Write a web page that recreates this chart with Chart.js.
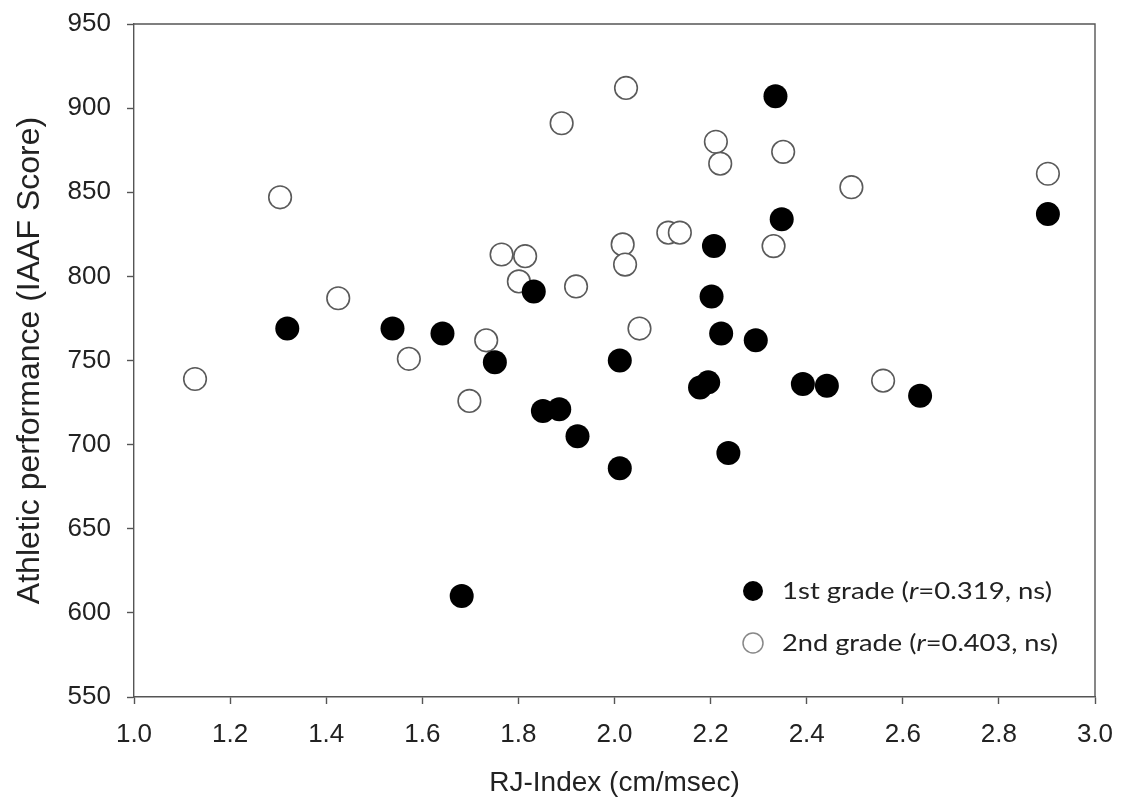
<!DOCTYPE html>
<html>
<head>
<meta charset="utf-8">
<script src="https://cdn.jsdelivr.net/npm/chart.js@4.4.1/dist/chart.umd.min.js"></script>
<style>
  html, body { margin: 0; padding: 0; background: #ffffff; }
  #wrap { width: 1121px; height: 810px; }
</style>
</head>
<body>
<div id="wrap"><canvas id="chart" width="1121" height="810"></canvas></div>
<script>
// RJ-index vs. IAAF score, 1st grade (filled) and 2nd grade (open)
const firstGradeRJ    = [1.319, 1.538, 1.642, 1.682, 1.751, 1.832, 1.851, 1.885, 1.923, 2.011, 2.011, 2.178,
                         2.195, 2.202, 2.207, 2.222, 2.237, 2.294, 2.335, 2.348, 2.392, 2.442, 2.636, 2.902];
const firstGradeScore = [769, 769, 766, 610, 749, 791, 720, 721, 705, 750, 686, 734,
                         737, 788, 818, 766, 695, 762, 907, 834, 736, 735, 729, 837];

const secondGradeRJ    = [1.127, 1.304, 1.425, 1.572, 1.698, 1.733, 1.765, 1.814, 1.801, 1.890, 1.920, 2.017,
                          2.022, 2.024, 2.052, 2.112, 2.136, 2.211, 2.220, 2.331, 2.351, 2.493, 2.559, 2.902];
const secondGradeScore = [739, 847, 787, 751, 726, 762, 813, 812, 797, 891, 794, 819,
                          807, 912, 769, 826, 826, 880, 867, 818, 874, 853, 738, 861];

const xTickValues = [1.0, 1.2, 1.4, 1.6, 1.8, 2.0, 2.2, 2.4, 2.6, 2.8, 3.0];
const yTickValues = [550, 600, 650, 700, 750, 800, 850, 900, 950];

const xAxisTitle = 'RJ-Index (cm/msec)';
const yAxisTitle = 'Athletic performance (IAAF Score)';

// legend rows: [before italic, italic symbol, after italic]
const legendLabels = [
  ['1st grade (', 'r', '=0.319, ns)'],
  ['2nd grade (', 'r', '=0.403, ns)']
];

const toPoints = (xs, ys) => xs.map((x, i) => ({ x: x, y: ys[i] }));

const axisColor = '#555555';
const textColor = '#222222';

// draws the top/right frame of the plot box
const frameBox = {
  id: 'frameBox',
  afterDatasetsDraw(chart) {
    const { ctx, chartArea: a } = chart;
    ctx.save();
    ctx.strokeStyle = axisColor;
    ctx.lineWidth = 1.4;
    ctx.beginPath();
    ctx.moveTo(a.left, a.top);
    ctx.lineTo(a.right, a.top);
    ctx.lineTo(a.right, a.bottom);
    ctx.stroke();
    ctx.restore();
  }
};

// legend with an italic statistic symbol, inside the plot area
const innerLegend = {
  id: 'innerLegend',
  afterDraw(chart) {
    const { ctx, chartArea: a } = chart;
    const markerX = a.right - 342;
    const textX = a.right - 313;
    const rowY = [a.bottom - 106, a.bottom - 54];
    const rowWidth = [270, 276];
    const family = '"Lato", "Open Sans", sans-serif';
    const upright = '24px ' + family;
    const italic = 'italic 24px ' + family;
    ctx.save();
    legendLabels.forEach((parts, i) => {
      const ds = chart.data.datasets[i];
      const cy = rowY[i];
      ctx.beginPath();
      ctx.arc(markerX, cy, 10, 0, Math.PI * 2);
      ctx.fillStyle = ds.backgroundColor;
      ctx.fill();
      if (i === 1) {
        ctx.lineWidth = 1.5;
        ctx.strokeStyle = '#888888';
        ctx.stroke();
      }
      // total natural width of the row, to set its horizontal spread
      ctx.font = upright;
      let w = ctx.measureText(parts[0]).width + ctx.measureText(parts[2]).width;
      ctx.font = italic;
      w += ctx.measureText(parts[1]).width;
      const k = rowWidth[i] / w;

      ctx.save();
      ctx.translate(textX, cy);
      ctx.scale(k, 1);
      ctx.fillStyle = textColor;
      ctx.textBaseline = 'middle';
      ctx.textAlign = 'left';
      let x = 0;
      ctx.font = upright;
      ctx.fillText(parts[0], x, 0);
      x += ctx.measureText(parts[0]).width;
      ctx.font = italic;
      ctx.fillText(parts[1], x, 0);
      x += ctx.measureText(parts[1]).width;
      ctx.font = upright;
      ctx.fillText(parts[2], x, 0);
      ctx.restore();
    });
    ctx.restore();
  }
};

new Chart(document.getElementById('chart'), {
  type: 'scatter',
  data: {
    datasets: [
      {
        label: '1st grade',
        data: toPoints(firstGradeRJ, firstGradeScore),
        backgroundColor: '#000000',
        borderColor: '#000000',
        borderWidth: 0,
        pointRadius: 12,
        pointHoverRadius: 12
      },
      {
        label: '2nd grade',
        data: toPoints(secondGradeRJ, secondGradeScore),
        backgroundColor: '#ffffff',
        borderColor: '#5a5a5a',
        borderWidth: 1.6,
        pointRadius: 11.3,
        pointHoverRadius: 11.3
      }
    ]
  },
  options: {
    responsive: false,
    animation: false,
    events: [],
    layout: { padding: { top: 24, right: 26, left: 0, bottom: 0 } },
    plugins: {
      legend: { display: false },
      tooltip: { enabled: false }
    },
    scales: {
      x: {
        type: 'linear',
        min: 1.0,
        max: 3.0,
        afterBuildTicks: (scale) => { scale.ticks = xTickValues.map(v => ({ value: v })); },
        afterFit: (scale) => {
          scale.height = 113;
          scale.paddingLeft = 0;
          scale.paddingRight = 0;
        },
        grid: { drawOnChartArea: false, drawTicks: true, tickLength: 7, tickColor: axisColor, tickWidth: 1.4 },
        border: { display: true, color: axisColor, width: 1.4 },
        ticks: {
          padding: 15,
          color: textColor,
          font: { family: '"Liberation Sans", Arial, sans-serif', size: 26 },
          callback: (v) => Number(v).toFixed(1)
        },
        title: {
          display: true,
          text: xAxisTitle,
          color: textColor,
          font: { family: '"Liberation Sans", Arial, sans-serif', size: 28 },
          padding: { top: 0, bottom: 10 }
        }
      },
      y: {
        type: 'linear',
        min: 550,
        max: 950,
        afterBuildTicks: (scale) => { scale.ticks = yTickValues.map(v => ({ value: v })); },
        afterFit: (scale) => {
          scale.width = 134;
          scale.paddingTop = 0;
          scale.paddingBottom = 0;
        },
        grid: { drawOnChartArea: false, drawTicks: true, tickLength: 7, tickColor: axisColor, tickWidth: 1.4 },
        border: { display: true, color: axisColor, width: 1.4 },
        ticks: {
          padding: 16,
          color: textColor,
          font: { family: '"Liberation Sans", Arial, sans-serif', size: 26 },
          callback: (v) => String(v)
        },
        title: {
          display: true,
          text: yAxisTitle,
          color: textColor,
          font: { family: '"Liberation Sans", Arial, sans-serif', size: 32 },
          padding: { top: 11, bottom: 0 }
        }
      }
    }
  },
  plugins: [frameBox, innerLegend]
});
</script>
</body>
</html>
